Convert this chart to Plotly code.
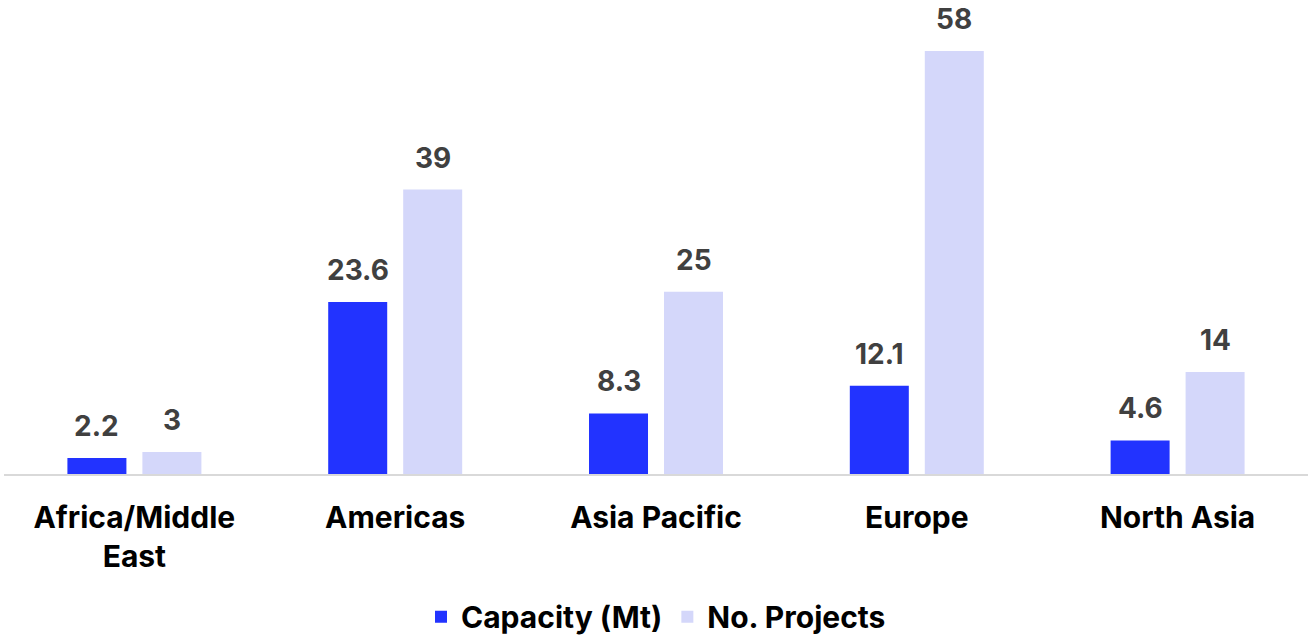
import plotly.graph_objects as go

categories = ["Africa/Middle<br>East", "Americas", "Asia Pacific", "Europe", "North Asia"]
capacity_mt = [2.2, 23.6, 8.3, 12.1, 4.6]
no_projects = [3, 39, 25, 58, 14]
capacity_labels = ["2.2", "23.6", "8.3", "12.1", "4.6"]
project_labels = ["3", "39", "25", "58", "14"]

BLUE = "#2233FF"
LAV = "#D4D7FA"
FONT = "Inter"

fig = go.Figure()
fig.add_trace(go.Bar(x=categories, y=capacity_mt, name="Capacity (Mt)", marker_color=BLUE,
                     marker_line_width=0))
fig.add_trace(go.Bar(x=categories, y=no_projects, name="No. Projects", marker_color=LAV,
                     marker_line_width=0))

annotations = []
for i, c in enumerate(categories):
    annotations.append(dict(x=c, y=capacity_mt[i], text=capacity_labels[i], xshift=-37.5,
                            yanchor="bottom", yshift=13, showarrow=False,
                            font=dict(family=FONT, size=28, color="#404040", weight=700)))
    annotations.append(dict(x=c, y=no_projects[i], text=project_labels[i], xshift=37.5,
                            yanchor="bottom", yshift=13, showarrow=False,
                            font=dict(family=FONT, size=28, color="#404040", weight=700)))

fig.update_layout(
    width=1312, height=638,
    margin=dict(l=4, r=4, t=0, b=164, autoexpand=False),
    plot_bgcolor="white", paper_bgcolor="white",
    barmode="group", bargap=0.425, bargroupgap=0.213,
    font=dict(family=FONT, size=30, color="#000000", weight=700),
    annotations=annotations,
    showlegend=True,
    legend=dict(orientation="h", x=0.5, xanchor="center", y=-0.356, yanchor="bottom",
                font=dict(family=FONT, size=30, color="#000000", weight=700),
                itemwidth=30, traceorder="normal"),
    xaxis=dict(showline=True, linecolor="#D9D9D9", linewidth=2, ticks="",
               ticklabelstandoff=16, tickfont=dict(family=FONT, size=30, color="#000000", weight=700),
               showgrid=False, automargin=False),
    yaxis=dict(range=[0, 65], visible=False, showgrid=False, zeroline=False),
)

fig.write_html("out.html")
